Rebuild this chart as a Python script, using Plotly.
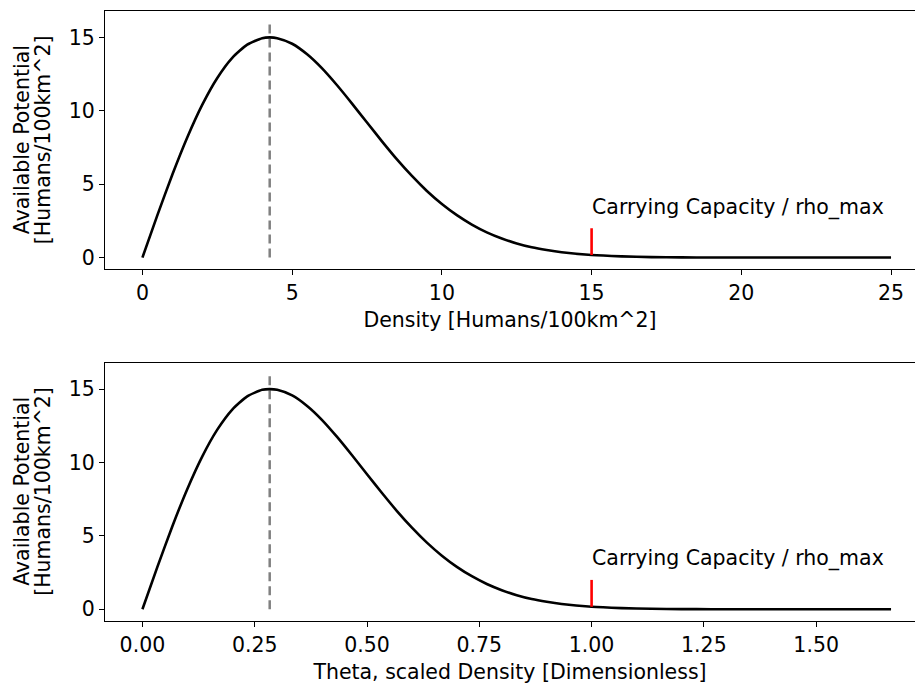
import plotly.graph_objects as go

# Data
density = [0, 0.5, 1, 1.5, 2, 2.5, 3, 3.5, 4, 4.25, 4.5, 5, 5.5, 6, 6.5, 7, 7.5, 8,
           8.5, 9, 9.5, 10, 10.5, 11, 11.5, 12, 12.5, 13, 13.5, 14, 15, 16, 17, 18,
           19, 20, 21, 22, 23, 24, 25]
potential = [0, 2.89, 5.66, 8.20, 10.42, 12.24, 13.61, 14.51, 14.95, 15.0, 14.95,
             14.57, 13.85, 12.89, 11.74, 10.49, 9.20, 7.92, 6.69, 5.56, 4.54, 3.65,
             2.89, 2.25, 1.72, 1.30, 0.96, 0.70, 0.51, 0.36, 0.17, 0.08, 0.03, 0.01,
             0.005, 0.002, 0, 0, 0, 0, 0]
carrying_capacity = 15
peak_density = 4.25
peak_line_y = [0, 16]
cap_line_y = [0.17, 2.0]
cap_text = "Carrying Capacity / rho_max"
ylabel_lines = ["Available Potential", "[Humans/100km^2]"]
theta = [d / carrying_capacity for d in density]
theta_peak = peak_density / carrying_capacity
theta_cap = 1.0

W, H = 915, 686
FONT = "DejaVu Sans"
FS = 20.5

fig = go.Figure()

top_dom = [(H - 269.3) / H, (H - 11) / H]
bot_dom = [(H - 621) / H, (H - 362.7) / H]

def add_panel(xs, xpeak, xcap, xa, ya, dom):
    fig.add_trace(go.Scatter(x=[xpeak, xpeak], y=peak_line_y, mode="lines",
                             line=dict(color="#808080", width=2.5, dash="9px,5px"),
                             xaxis=xa, yaxis=ya, showlegend=False))
    fig.add_trace(go.Scatter(x=xs, y=potential, mode="lines",
                             line=dict(color="black", width=2.6, shape="spline", smoothing=0.6),
                             xaxis=xa, yaxis=ya, showlegend=False))
    fig.add_trace(go.Scatter(x=[xcap, xcap], y=cap_line_y, mode="lines",
                             line=dict(color="red", width=2.6),
                             xaxis=xa, yaxis=ya, showlegend=False))
    fig.add_annotation(x=xcap, y=2.45, xref=xa, yref=ya, text=cap_text,
                       showarrow=False, xanchor="left", yanchor="bottom",
                       xshift=-2, font=dict(family=FONT, size=FS, color="black"))
    yc = (dom[0] + dom[1]) / 2
    for i, line in enumerate(ylabel_lines):
        fig.add_annotation(x=(22 + 21 * i) / W, y=yc, xref="paper", yref="paper",
                           text=line, textangle=-90, showarrow=False,
                           xanchor="center", yanchor="middle",
                           font=dict(family=FONT, size=FS, color="black"))

add_panel(density, peak_density, carrying_capacity, "x", "y", top_dom)
add_panel(theta, theta_peak, theta_cap, "x2", "y2", bot_dom)

xl = 105 / W
axis_common = dict(showgrid=False, zeroline=False, showline=True, linecolor="black",
                   linewidth=1.3, ticks="outside", ticklen=5, tickwidth=1.2,
                   tickcolor="black",
                   tickfont=dict(family=FONT, size=FS, color="black"))

fig.update_layout(
    width=W, height=H, margin=dict(l=0, r=0, t=0, b=0),
    paper_bgcolor="white", plot_bgcolor="white",
    xaxis=dict(domain=[xl, 1.0], range=[-1.25, 25.8], anchor="y",
               tickvals=[0, 5, 10, 15, 20, 25], mirror=True,
               title=dict(text="Density [Humans/100km^2]", standoff=8,
                          font=dict(family=FONT, size=FS, color="black")),
               **axis_common),
    yaxis=dict(domain=top_dom, range=[-0.8, 16.8], anchor="x",
               tickvals=[0, 5, 10, 15], **axis_common),
    xaxis2=dict(domain=[xl, 1.0], range=[-1.25 / 15, 25.8 / 15], anchor="y2",
                tickvals=[0, 0.25, 0.5, 0.75, 1.0, 1.25, 1.5], tickformat=".2f",
                mirror=True,
                title=dict(text="Theta, scaled Density [Dimensionless]", standoff=8,
                           font=dict(family=FONT, size=FS, color="black")),
                **axis_common),
    yaxis2=dict(domain=bot_dom, range=[-0.8, 16.8], anchor="x2",
                tickvals=[0, 5, 10, 15], **axis_common),
)

fig.write_html("out.html")
